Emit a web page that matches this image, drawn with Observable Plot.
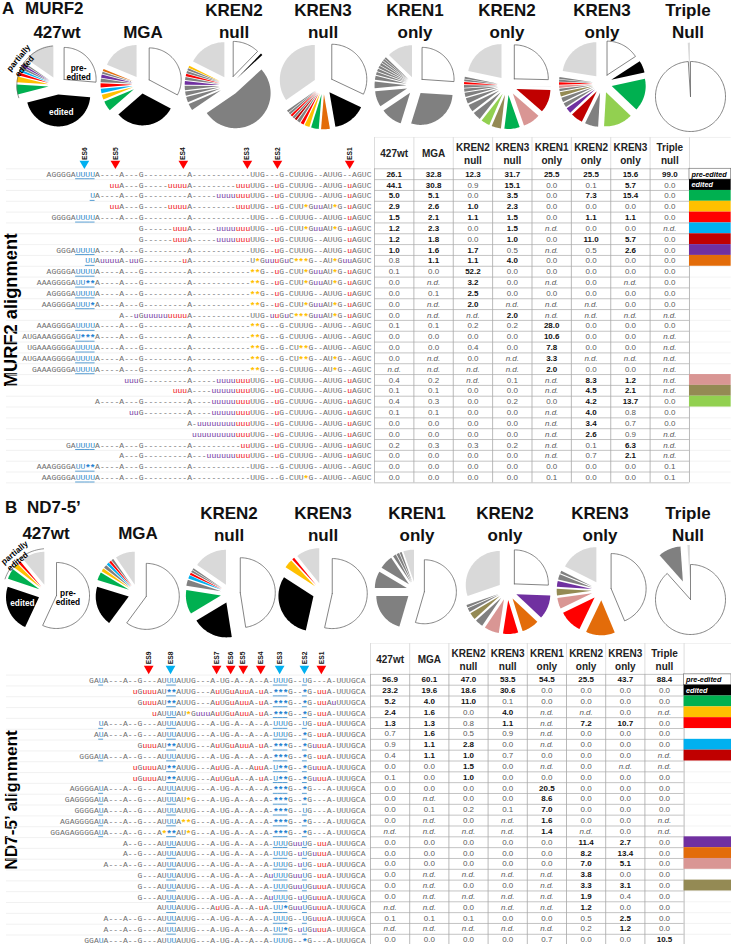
<!DOCTYPE html>
<html><head><meta charset="utf-8">
<script src="https://cdn.jsdelivr.net/npm/d3@7"></script>
<script src="https://cdn.jsdelivr.net/npm/@observablehq/plot@0.6"></script>
<style>
html,body{margin:0;padding:0;background:#fff}
#page{position:relative;width:731px;height:944px;overflow:hidden;font-family:"Liberation Sans",Arial,sans-serif}
#page>svg,#page>div{position:absolute}
.t{font-weight:bold;font-size:17px;line-height:21.5px;color:#111;white-space:pre;text-align:center;transform:translateX(-50%)}
.r{font-weight:bold;font-size:18.3px;color:#000;white-space:pre;transform:translate(-50%,-50%) rotate(-90deg)}
</style></head><body><div id="page"></div>
<script>
// ---------- DATA ----------
const columnHeaders=["427wt","MGA","KREN2\nnull","KREN3\nnull","KREN1\nonly","KREN2\nonly","KREN3\nonly","Triple\nnull"];
const pieTitles=["427wt","MGA","KREN2\nnull","KREN3\nnull","KREN1\nonly","KREN2\nonly","KREN3\nonly","Triple\nNull"];

// pies: percent value and category of each slice, clockwise from 12 o'clock
const a1v=[26.1,44.1,5.0,2.9,1.5,1.2,1.2,1.0,0.8,15.2], a1k="pre edited green yellow red blue gray purple gray light";
const a2v=[32.8,30.8,5.1,2.6,2.3,2.1,1.8,1.6,1.1,1.1,18.7], a2k="pre edited green yellow blue red gray purple gray orange light";
const a3v=[12.3,0.9,52.2,3.2,2.5,2.0,2.0,1.7,1.4,1.1,1.1,1.0,1.0,17.6], a3k="pre edited gray gray gray gray gray purple gray red gray gray yellow light";
const a4v=[31.7,15.1,4.0,3.5,2.3,1.5,1.5,1.0,1.0,1.0,1.0,1.0,34.4], a4k="pre edited orange green yellow red gray darkred gray red gray gray light";
const a5v=[25.5,28.0,10.6,7.8,3.3,2.0,1.5,1.3,1.2,1.2,1.0,0.9,0.9,12.5], a5k="pre gray gray gray gray gray gray gray gray gray gray gray gray light";
const a6v=[25.5,0.1,11.0,8.3,7.3,4.5,4.2,4.0,3.4,2.6,2.0,1.5,1.3,1.1,1.0,0.9,21.8], a6k="pre light darkred pink green khaki lightgreen gray gray gray gray gray gray red gray gray light";
const a7v=[15.6,5.7,15.4,13.7,6.3,5.7,2.6,2.1,2.1,2.1,1.2,1.2,1.1,1.0,0.9,22.3], a7k="pre edited green lightgreen gray darkred purple gray gray khaki gray pink red gray gray light";
const a8v=[99.0,1.0], a8k="pre light";
const b1v=[56.9,23.2,5.2,2.4,1.3,11.0], b1k="pre edited green yellow red light";
const b2v=[60.1,19.6,4.0,1.6,1.6,1.3,1.1,1.1,9.6], b2k="pre edited green yellow gray blue red gray light";
const b3v=[47.0,18.6,11.0,2.8,1.5,1.0,1.0,0.8,15.2], b3k="pre edited green gray blue red gray gray light";
const b4v=[53.5,30.6,4.0,1.1,10.8], b4k="pre edited yellow red light";
const b5v=[54.5,20.5,8.6,7.0,1.6,1.4,1.0,5.4], b5k="pre gray gray gray gray gray gray light";
const b6v=[25.5,11.4,8.2,7.2,7.0,3.8,3.3,1.9,1.2,30.2], b6k="pre purple orange red pink gray khaki gray gray light";
const b7v=[43.7,13.4,10.7,5.1,3.1,2.7,2.5,1.2,17.6], b7k="pre orange red pink khaki purple gray gray light";
const b8v=[88.4,10.5,1.1], b8k="pre gray light";

// alignments. u red, v purple u, Y blue underlined U, # blue underlined star, * orange star
const alignA=[
"AGGGGAYYYYA----A---G---------A------------UUG---G-CUUUG--AUUG--AGUC",
"uuA---G-----uuuuA---------uuuUUG--uG-CUUUG--AUUG-uAGUC",
"YA----A---G---------A-----vvvvuuuUUG--uG-CUUUG--AUUG-uAGUC",
"uuA---G-----uuuuA---------uuuUUG--uG-CUU*GvvAU*G-uAGUC",
"GGGGAYYYYA----A---G---------A------------UUG---G-CUUUG--AUUG-uAGUC",
"G------uuuA-----vvvvuuuUUG--uG-CUU*GvvAU*G-uAGUC",
"G------uuuA-----vvvvuuuUUG--uG-CUUUG--AUUG-uAGUC",
"GGGAYYYYA----A---G---------A------------UUG--uG-CUUUG--AUUG-uAGUC",
"YYAvvvvA-vvG--------uA------------U*GvvuGvC***G--AU*GvvAGUC",
"AGGGGAYYYYA----A---G---------A------------**G--uG-CUU*GvvAU*G-uAGUC",
"AAAGGGGAYY##A----A---G---------A------------**G--uG-CUU*GvvAU*G-uAGUC",
"AGGGGAYYYYA----A---G---------A------------**G--uG-CUUUG--AUUG-uAGUC",
"AAGGGGAYYY#A----A---G---------A------------**G--uG-CUU*GvvAU*G-uAGUC",
"A--vGvvvvvuuuuA------------UUG-vuGvC***GvvAU*G-uAGUC",
"AAAGGGGAYYYYA----A---G---------A------------**G---G-CUUUG--AUUG--AGUC",
"AUGAAAGGGGAY###A----A---G---------A------------**G---G-CUUUG--AUUG--AGUC",
"UGAAAGGGGAYYYYA----A---G---------A------------**G---G-CU**G--AUUG--AGUC",
"AUGAAAGGGGAYYYYA----A---G---------A------------**G---G-CU**G--AU*G--AGUC",
"GAAAGGGGAYYYYA----A---G---------A------------**G---G-CUUUG--AU*G--AGUC",
"vvvG---------A-----vvvvuuuUUG--uG-CUUUG--AUUG-uAGUC",
"uuuA----vvvvvuuuUUG--uG-CUUUG--AUUG-uAGUC",
"A----A---G---------A----vvvvvuuuUUG--uG-CUUUG--AUUG-uAGUC",
"vvG---------A----vvvvvuuuUUG--uG-CUUUG--AUUG-uAGUC",
"A-vvvvvvvvuuuUUG--uG-CUUUG--AUUG-uAGUC",
"vvvvvvvvvuuuUUG--uG-CUUUG--AUUG-uAGUC",
"GAYYYYA----A---G---------A----------uuUUG--uG-CUUUG--AUUG-uAGUC",
"A---G---------A---vvvvvvuuuUUG--uG-CUUUG--AUUG-uAGUC",
"AAAGGGGAYY##A----A---G---------A------------UUG---G-CUUUG--AUUG--AGUC",
"AAGGGGAYYYYA----A---G---------A------------UUG---G-CUU*G--AUUG--AGUC"];
const alignB=[
"GAYA---A--G---AUYYAUUG---A-UG-A--A--A-YYYG--YG---A-UUUGCA",
"uGuuuAU##AUUG---AuUGuAuuA-uA-###G--#G-uuA-UUUGCA",
"GuuuAU##AUUG---AuUGuAuuA-uA-###G--#G-uuAvUUUGCA",
"uAUYYAU*GvvvAuUGuAuuA-uA-###G--#G-uuA-UUUGCA",
"YA---A--G---AUYYAUUG---A-UG-A--A--A-YYYG--YG-uuA-UUUGCA",
"AYA---A--G---AUYYAUUG---A-UG-A--A--A-YYYG--#G-uuA-UUUGCA",
"GuuuAU##AUUG---AuUGuAuuA-uA-###G--#GvuuA-UUUGCA",
"GGGAYA---A--G---AUYYAUUG---A-UG-A--A--A-###G--#G-uuA-UUUGCA",
"uGuuuAU##AUUG---AuUG-A--AuuA-Y##G--#GvuuA-UUUGCA",
"uGuuuAU##AUUG---AuUGuA--A-uA-Y##G--#GvuuA-UUUGCA",
"AGGGGAYA---A--G---AUYYAUUG---A-UG-A--A--A-###G--#G---A-UUUGCA",
"GAGGGGAYA---A--G---AUYYAU*G---A-UG-A--A--A-###G--#G---A-UUUGCA",
"GGGGAYA---A--G---AUYYAUUG---A-UG-A--A--A-###G--YG---A-UUUGCA",
"AGAGGGGAYA---A--G---AUYYA**G---A-UG-A--A--A-###G--#G---A-UUUGCA",
"GGAGAGGGGAYA---A--G---A*##AU*G---A-UG-A--A--A-###G--#G---A-UUUGCA",
"A--G---AUYYAUUG---A-UG-A--A--A-YYYGvvYG-uuA-UUUGCA",
"A--G---AUYYAUUG---A-UG-A--A--A-YYYG-vYGvuuA-UUUGCA",
"A---A--G---AUYYAUUG---A-UG-A--A--A-YYYG-vYG-uuA-UUUGCA",
"G---AUYYAUUG---A-UG-A--A--AvYYYGvvYG-uuA-UUUGCA",
"G---AUYYAUUG---A-UG-A--A--A-YYYGvvYGvuuA-UUUGCA",
"G---AUYYAUUG---A-UG-A--A--AvYYYG-vYGvuuA-UUUGCA",
"AUYYAUUG---AuUG-A--A-uA-YY#GvvYGvuuA-UUUGCA",
"A---A--G---AUYYAUUG---A-UG-A--A--A-YYYG--YGvuuA-UUUGCA",
"A---A--G---AUYYAUUG---A-UG-A--A--A-YY#G-vYGvuuA-UUUGCA",
"GGAYA---A--G---AUYYAUUG---A-UG-A--A--A-YYYG--#G---A-UUUGCA"];

// editing-site markers: name and column counted from the 3' end
const sitesAnames=["ES6","ES5","ES4","ES3","ES2","ES1"], sitesAcols=[59.2,52.8,38.8,25.6,19.4,4.5], sitesAkinds=["blue","red","red","red","red","red"];
const sitesBnames=["ES9","ES8","ES7","ES6","ES5","ES4","ES3","ES2","ES1"], sitesBcols=[44.7,40.2,30.7,27.8,25.2,21.6,17.7,12.6,9.1], sitesBkinds=["red","blue","red","red","red","red","blue","blue","red"];

// tables (nd = n.d.)
const nd="n.d.";
const tableA=[
[26.1,32.8,12.3,31.7,25.5,25.5,15.6,99.0],[44.1,30.8,0.9,15.1,0,0.1,5.7,0],[5.0,5.1,0,3.5,0,7.3,15.4,0],
[2.9,2.6,1.0,2.3,0,0,0,0],[1.5,2.1,1.1,1.5,0,1.1,1.1,0],[1.2,2.3,0,1.5,nd,0,0,nd],[1.2,1.8,0,1.0,0,11.0,5.7,0],
[1.0,1.6,1.7,0.5,nd,0.5,2.6,0],[0.8,1.1,1.1,4.0,0,0,0,0],[0.1,0,52.2,0,0,0,0,0],[0,nd,3.2,0,nd,0,nd,0],
[0,0.1,2.5,0,0,0,0,0],[0,nd,2.0,nd,nd,nd,0,0],[0,nd,nd,2.0,nd,nd,nd,nd],[0.1,0.1,0.2,0.2,28.0,0,0,0],
[0,0,0,0,10.6,0,0,nd],[0,0,0.4,0,7.8,0,0,nd],[0,nd,0,nd,3.3,nd,nd,nd],[nd,nd,nd,nd,2.0,0,0,nd],
[0.4,0.2,nd,0.1,nd,8.3,1.2,nd],[0.1,0.1,0,0,nd,4.5,2.1,nd],[0.4,0.3,0,0.2,0,4.2,13.7,0],[0.1,0.1,0,0,nd,4.0,0.8,0],
[0,0,0,0,nd,3.4,0.7,0],[0,0,0,0,nd,2.6,0.9,nd],[0.2,0.3,0.3,0.2,nd,0.1,6.3,nd],[0,0,0,0,nd,0.7,2.1,nd],
[0,0,0,0,0,0,0,0.1],[0,0,0,0,0.1,0,0,0.1]];
const tableB=[
[56.9,60.1,47.0,53.5,54.5,25.5,43.7,88.4],[23.2,19.6,18.6,30.6,0,0,0,0],[5.2,4.0,11.0,0.1,0,0,0,0],
[2.4,1.6,0,4.0,nd,nd,0,nd],[1.3,1.3,0.8,1.1,nd,7.2,10.7,0],[0.7,1.6,0.5,0.9,nd,0,0,0],[0.9,1.1,2.8,0,nd,0,0,0],
[0.4,1.1,1.0,0.7,0,0,0,nd],[0,0,1.5,0,nd,0,nd,nd],[0.1,0,1.0,0,0,0,0,0],[0,0,0,0,20.5,0,0,0],
[0,nd,0,0,8.6,0,0,0],[0,0.1,0.2,0.1,7.0,0,0,0],[0,nd,0,nd,1.6,0,0,nd],[nd,nd,nd,nd,1.4,nd,0,nd],
[0,0,0,0,0,11.4,2.7,0],[0,0,0,0,0,8.2,13.4,0],[0,0,0,0,0,7.0,5.1,0],[0,nd,nd,nd,nd,3.8,0,0],
[0,nd,0,0,nd,3.3,3.1,0],[0,nd,nd,nd,nd,1.9,0.4,0],[nd,nd,0,nd,nd,1.2,0,0],[0.1,0.1,0.1,0,0,0.5,2.5,0],
[nd,nd,nd,nd,nd,0.2,1.2,0],[0,0,0,0,0.7,0,0,10.5]];
const swatchRowsA=[0,1,2,3,4,5,6,7,8,19,20,21], swatchKindsA="pre edited green yellow red blue darkred purple orange pink khaki lightgreen";
const swatchRowsB=[0,1,2,3,4,6,7,15,16,17,19], swatchKindsB="pre edited green yellow red blue darkred purple orange pink khaki";

// ---------- STYLE ----------
const palette={pre:"#ffffff",edited:"#000000",green:"#00b050",yellow:"#ffc000",red:"#ff0000",blue:"#00b0f0",darkred:"#c00000",
 purple:"#7030a0",orange:"#e36c0a",pink:"#d99694",khaki:"#948a54",lightgreen:"#92d050",gray:"#808080",light:"#d9d9d9"};
const sans='"Liberation Sans",Arial,sans-serif', mono='"Liberation Mono",monospace';
const page=document.getElementById("page");
const place=(el,l,t)=>{el.style.left=l+"px";el.style.top=t+"px";page.appendChild(el);return el;};
const transparent={background:"transparent",overflow:"visible"};
const title=(txt,cx,top)=>{const d=document.createElement("div");d.className="t";d.textContent=txt;place(d,cx,top);};
const rot=(txt,cx,cy,size)=>{const d=document.createElement("div");d.className="r";d.style.fontSize=size+"px";d.textContent=txt;place(d,cx,cy);};

// ---------- PIES ----------
function pie(values,kinds,o){
  const kindList=kinds.split(" "), half=65, r=o.r;
  const arcs=d3.pie().sort(null)(values);
  const pts=[];
  arcs.forEach((a,i)=>{
    const kind=kindList[i], ex=kind==="pre"?(o.exPre??0.28):(o.ex??0.28);
    const mid=(a.startAngle+a.endAngle)/2;
    const ox=ex*Math.sin(mid), oy=ex*Math.cos(mid);
    const apex={id:i,kind,x:ox,y:oy}; pts.push(apex);
    const n=Math.max(2,Math.ceil((a.endAngle-a.startAngle)/0.04));
    for(let k=0;k<=n;k++){const t=a.startAngle+(a.endAngle-a.startAngle)*k/n;
      pts.push({id:i,kind,x:ox+Math.sin(t),y:oy+Math.cos(t)});}
    pts.push({...apex});
  });
  const dom=half/r;
  const marks=[
    Plot.line(pts.filter(d=>d.kind!=="pre"),{x:"x",y:"y",z:"id",fill:d=>palette[d.kind],stroke:"none"}),
    Plot.line(pts.filter(d=>d.kind==="pre"),{x:"x",y:"y",z:"id",fill:"white",stroke:"#666",strokeWidth:0.8})
  ];
  (o.extra||[]).forEach(m=>marks.push(m(dom)));
  const svg=Plot.plot({width:2*half,height:2*half,margin:0,x:{axis:null,domain:[-dom,dom]},y:{axis:null,domain:[-dom,dom]},
    color:{type:"identity"},style:transparent,marks});
  place(svg,o.cx-half,o.cy-half);
}
const note=(txt,x,y,opts={})=>()=>Plot.text([txt],{x:()=>x,y:()=>y,text:d=>d,fontFamily:sans,fontWeight:"bold",fontSize:8.3,lineHeight:1.05,...opts});
const bracket=(a0,a1,rad,cx=0,cy=0)=>()=>Plot.line(d3.range(a0,a1+0.1,3),{x:a=>cx+rad*Math.sin(a*Math.PI/180),y:a=>cy+rad*Math.cos(a*Math.PI/180),stroke:"#666",strokeWidth:0.7});

const R=32;
pie(a1v,a1k,{cx:57,cy:85,r:R,extra:[
  note("pre-\nedited",0.66,0.4),note("edited",0.12,-0.82,{fill:"white"}),
  bracket(252,356,1.24,-0.03,0),
  note("partially",-1.22,0.86,{rotate:-50}),note("edited",-1.03,0.6,{rotate:-50})]});
pie(a2v,a2k,{cx:141,cy:84,r:R});
pie(a3v,a3k,{cx:229,cy:85,r:35});
pie(a4v,a4k,{cx:323,cy:84,r:35});
pie(a5v,a5k,{cx:415,cy:85,r:R});
pie(a6v,a6k,{cx:507,cy:85,r:34});
pie(a7v,a7k,{cx:602,cy:83,r:34});
pie(a8v,a8k,{cx:690,cy:96,r:35,exPre:0,ex:0.54});
pie(b1v,b1k,{cx:47,cy:593,r:R+1,extra:[
  note("pre-\nedited",0.62,-0.12),note("edited",-0.76,-0.3,{fill:"white"}),
  bracket(289,355,1.36),
  note("partially",-1.0,1.24,{rotate:-40}),note("edited",-0.91,0.97,{rotate:-40})]});
pie(b2v,b2k,{cx:137,cy:593,r:33});
pie(b3v,b3k,{cx:230,cy:593,r:35});
pie(b4v,b4k,{cx:322,cy:592,r:35});
pie(b5v,b5k,{cx:415,cy:590,r:R});
pie(b6v,b6k,{cx:507,cy:590,r:34});
pie(b7v,b7k,{cx:601,cy:590,r:35});
pie(b8v,b8k,{cx:690,cy:599,r:35,exPre:0,ex:0.56});

// ---------- TITLES ----------
[57,143,234,323,415,507,602,688].forEach((cx,i)=>title(pieTitles[i],cx,pieTitles[i].includes("\n")?0:21.5));
[46,138,229,323,417,505,600,688].forEach((cx,i)=>title(pieTitles[i],cx,pieTitles[i].includes("\n")?503:522.5));
const ph=(txt,l,t)=>{const d=document.createElement("div");d.className="t";d.style.transform="none";d.textContent=txt;place(d,l,t);};
ph("A",2,-2);ph("MURF2",25,-2);ph("B",5,497);ph("ND7-5’",27,497);
rot("MURF2 alignment",10.5,309.5,18.3);rot("ND7-5’ alignment",10.5,800,17.2);

// ---------- ALIGNMENT ----------
function alignment(rows,names,cols,kinds,o){
  const pitch=4.85,rowH=10.83,W=371,H=o.bottom-o.top;
  const chars=[],under=[];
  rows.forEach((s,r)=>{const L=s.length;[...s].forEach((c,i)=>{
    const col=i-L+0.5;
    const map={u:["u","#f01010"],v:["u","#7030a0"],Y:["U","#2e86c8"],"#":["*","#1f7fd0"],"*":["*","#ffc000"]}[c]||[c,"#6e6e6e"];
    chars.push({r,col,ch:map[0],color:map[1],star:map[0]==="*"});
    if(c==="Y"||c==="#")under.push({r,col});
  });});
  const sites=names.map((n,i)=>({n,col:-cols[i],color:palette[kinds[i]]}));
  const svg=Plot.plot({width:W,height:H,margin:0,
    x:{axis:null,domain:[-o.right/pitch,(W-o.right)/pitch],range:[0,W]},
    y:{axis:null,domain:[(o.top-o.y0)/rowH,(o.bottom-o.y0)/rowH],range:[0,H]},
    color:{type:"identity"},style:transparent,
    marks:[
      Plot.ruleY(d3.range(-0.5,rows.length),{x1:-(o.right-6)/pitch,x2:(W-o.right)/pitch,stroke:"#eeeeee",strokeWidth:0.8}),
      Plot.ruleY(under,{y:d=>d.r+0.42,x1:d=>d.col-0.5,x2:d=>d.col+0.5,stroke:"#2e86c8",strokeWidth:0.8}),
      Plot.text(chars.filter(d=>!d.star),{x:"col",y:"r",text:"ch",fill:"color",fontFamily:mono,fontSize:8}),
      Plot.text(chars.filter(d=>d.star),{x:"col",y:"r",text:"ch",fill:"color",fontFamily:mono,fontWeight:"bold",fontSize:9.5,dy:1.5}),
      Plot.dot(sites,{x:"col",y:()=>o.triY,symbol:"triangle",r:3.6,rotate:180,fill:"color",stroke:"none"}),
      Plot.text(sites,{x:"col",y:()=>o.labY,text:"n",rotate:-90,fill:"#111",fontFamily:sans,fontWeight:"bold",fontSize:6.7})
    ]});
  place(svg,0,o.top);
}
alignment(alignA,sitesAnames,sitesAcols,sitesAkinds,{top:135,bottom:488,y0:173.7,right:371,triY:-0.99,labY:-1.9});
alignment(alignB,sitesBnames,sitesBcols,sitesBkinds,{top:640,bottom:944,y0:680,right:365,triY:-1.1,labY:-2.08});

// ---------- TABLE ----------
function table(rows,swRows,swKinds,o){
  const rowH=10.83,n=rows.length,W=731-o.left,H=Math.min((o.headRows+n)*rowH+1,944-o.top);
  const cells=[];
  rows.forEach((row,r)=>row.forEach((v,c)=>cells.push({r,c,v,isNd:v===nd,label:v===nd?nd:v.toFixed(1),strong:v!==nd&&v>=1})));
  const kinds=swKinds.split(" ");
  const sw=swRows.map((r,i)=>({r,kind:kinds[i]}));
  const heads=columnHeaders.map((h,c)=>({h,c}));
  const yLine=d3.range(0,n+1);
  const svg=Plot.plot({width:W,height:H,margin:0,
    x:{axis:null,domain:[0,W/o.colW],range:[0,W]},
    y:{axis:null,domain:[-o.headRows,H/rowH-o.headRows],range:[0,H]},
    color:{type:"identity"},style:transparent,
    marks:[
      Plot.ruleY(yLine,{x1:8,x2:W/o.colW,stroke:"#f0f0f0",strokeWidth:0.8}),
      Plot.ruleY([-o.headRows],{x1:0,x2:W/o.colW,stroke:"#eeeeee",strokeWidth:0.8}),
      Plot.ruleY(yLine,{x1:0,x2:8,stroke:"#b5b5b5",strokeWidth:0.8}),
      Plot.ruleX(d3.range(0,9),{y1:-o.headRows,y2:0,stroke:"#dddddd",strokeWidth:1}),
      Plot.ruleX(d3.range(0,9),{y1:0,y2:n,stroke:"#a8a8a8",strokeWidth:0.8}),
      Plot.rect(sw,{x1:()=>8,x2:()=>W/o.colW,y1:"r",y2:d=>d.r+1,fill:d=>palette[d.kind],stroke:d=>d.kind==="pre"?"#777":"none",strokeWidth:0.7}),
      Plot.text(["pre-edited"],{x:()=>8.05,y:()=>0.5,text:d=>d,textAnchor:"start",fontFamily:sans,fontStyle:"italic",fontWeight:"bold",fontSize:7.3,fill:"#000"}),
      Plot.text(["edited"],{x:()=>8.05,y:()=>1.5,text:d=>d,textAnchor:"start",fontFamily:sans,fontStyle:"italic",fontWeight:"bold",fontSize:7.3,fill:"#fff"}),
      Plot.text(heads,{x:d=>d.c+0.5,y:()=>-o.headRows/2,text:"h",fontFamily:sans,fontWeight:"bold",fontSize:10,lineHeight:1.3,fill:"#222"}),
      Plot.text(cells.filter(d=>d.strong),{x:d=>d.c+0.5,y:d=>d.r+0.5,text:"label",fontFamily:sans,fontWeight:"bold",fontSize:8,fill:"#111"}),
      Plot.text(cells.filter(d=>!d.strong&&!d.isNd),{x:d=>d.c+0.5,y:d=>d.r+0.5,text:"label",fontFamily:sans,fontSize:8,fill:"#5a5a5a"}),
      Plot.text(cells.filter(d=>d.isNd),{x:d=>d.c+0.5,y:d=>d.r+0.5,text:"label",fontFamily:sans,fontStyle:"italic",fontSize:8,fill:"#5a5a5a"})
    ]});
  place(svg,o.left,o.top);
}
table(tableA,swatchRowsA,swatchKindsA,{left:374.3,top:137,headRows:2.89,colW:39.375});
table(tableB,swatchRowsB,swatchKindsB,{left:370,top:643,headRows:2.85,colW:39.2});
</script></body></html>
